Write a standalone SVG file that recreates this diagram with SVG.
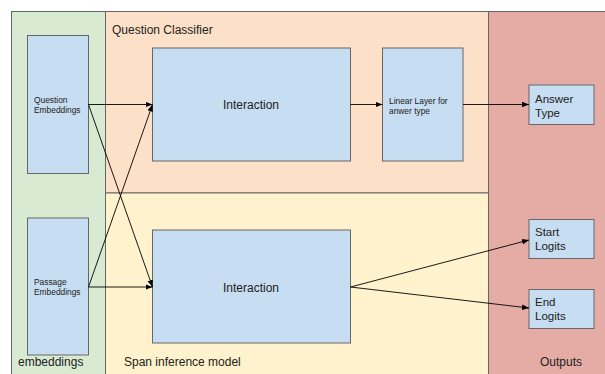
<svg xmlns="http://www.w3.org/2000/svg" width="605" height="374" viewBox="0 0 605 374">
  <defs>
    <marker id="arrow" viewBox="0 0 10 10" refX="10" refY="5" markerWidth="7" markerHeight="7" markerUnits="userSpaceOnUse" orient="auto">
      <path d="M0,1 L10,5 L0,9 z" fill="#000"/>
    </marker>
  </defs>
  <style>
    text { font-family: "Liberation Sans", Arial, sans-serif; fill: #222; }
    .panel { stroke: #666; stroke-width: 1; }
    .box { fill: #c7ddf1; stroke: #666; stroke-width: 1; }
    .small { font-size: 8.4px; }
    .mid { font-size: 11.5px; }
    .big { font-size: 12px; }
    .edge { fill: none; stroke: #000; stroke-width: 0.9; marker-end: url(#arrow); }
  </style>
  <rect width="605" height="374" fill="#fff"/>

  <!-- background panels -->
  <g id="panel-embeddings">
    <rect class="panel" x="11.5" y="11.5" width="94" height="364" fill="#d9ead3"/>
    <text class="big" x="18" y="366">embeddings</text>
  </g>
  <g id="panel-classifier">
    <rect class="panel" x="105.5" y="11.5" width="383" height="181.5" fill="#fce0c8"/>
    <text class="big" x="112" y="34">Question Classifier</text>
  </g>
  <g id="panel-span">
    <rect class="panel" x="105.5" y="193" width="383" height="182" fill="#fff2cc"/>
    <text class="big" x="124" y="366">Span inference model</text>
  </g>
  <g id="panel-outputs">
    <rect class="panel" x="488.5" y="11.5" width="118" height="364" fill="#e5aca6"/>
    <text class="big" x="540" y="366">Outputs</text>
  </g>

  <!-- nodes -->
  <g id="question-embeddings">
    <rect class="box" x="27.5" y="35.5" width="61" height="138"/>
    <text class="small" x="34" y="103">Question</text>
    <text class="small" x="34" y="113">Embeddings</text>
  </g>
  <g id="passage-embeddings">
    <rect class="box" x="27.5" y="218" width="61" height="137"/>
    <text class="small" x="34" y="285">Passage</text>
    <text class="small" x="34" y="295">Embeddings</text>
  </g>
  <g id="interaction-top">
    <rect class="box" x="152.5" y="48" width="198" height="113"/>
    <text class="big" x="251" y="109" text-anchor="middle">Interaction</text>
  </g>
  <g id="linear-layer">
    <rect class="box" x="382.5" y="48" width="80.5" height="113"/>
    <text class="small" x="389" y="104">Linear Layer for</text>
    <text class="small" x="389" y="114">anwer type</text>
  </g>
  <g id="answer-type">
    <rect class="box" x="529" y="85" width="65" height="39.5"/>
    <text class="mid" x="535" y="103">Answer</text>
    <text class="mid" x="535" y="117">Type</text>
  </g>
  <g id="interaction-bottom">
    <rect class="box" x="152.5" y="230" width="198" height="113"/>
    <text class="big" x="251" y="292" text-anchor="middle">Interaction</text>
  </g>
  <g id="start-logits">
    <rect class="box" x="529" y="219.5" width="65" height="39"/>
    <text class="mid" x="535" y="236">Start</text>
    <text class="mid" x="535" y="250">Logits</text>
  </g>
  <g id="end-logits">
    <rect class="box" x="529" y="289.5" width="65" height="39"/>
    <text class="mid" x="535" y="306">End</text>
    <text class="mid" x="535" y="320">Logits</text>
  </g>

  <!-- connectors -->
  <g id="connectors">
    <path class="edge" d="M88.5,104.5 L152.5,104.5"/>
    <path class="edge" d="M88.5,104.5 L152.5,287"/>
    <path class="edge" d="M88.5,287 L152.5,287"/>
    <path class="edge" d="M88.5,287 L152.5,104.5"/>
    <path class="edge" d="M350.5,104.5 L382.5,104.5"/>
    <path class="edge" d="M463,104.5 L529,104.5"/>
    <path class="edge" d="M350.5,287 L529,240"/>
    <path class="edge" d="M350.5,287 L529,308"/>
  </g>
</svg>
